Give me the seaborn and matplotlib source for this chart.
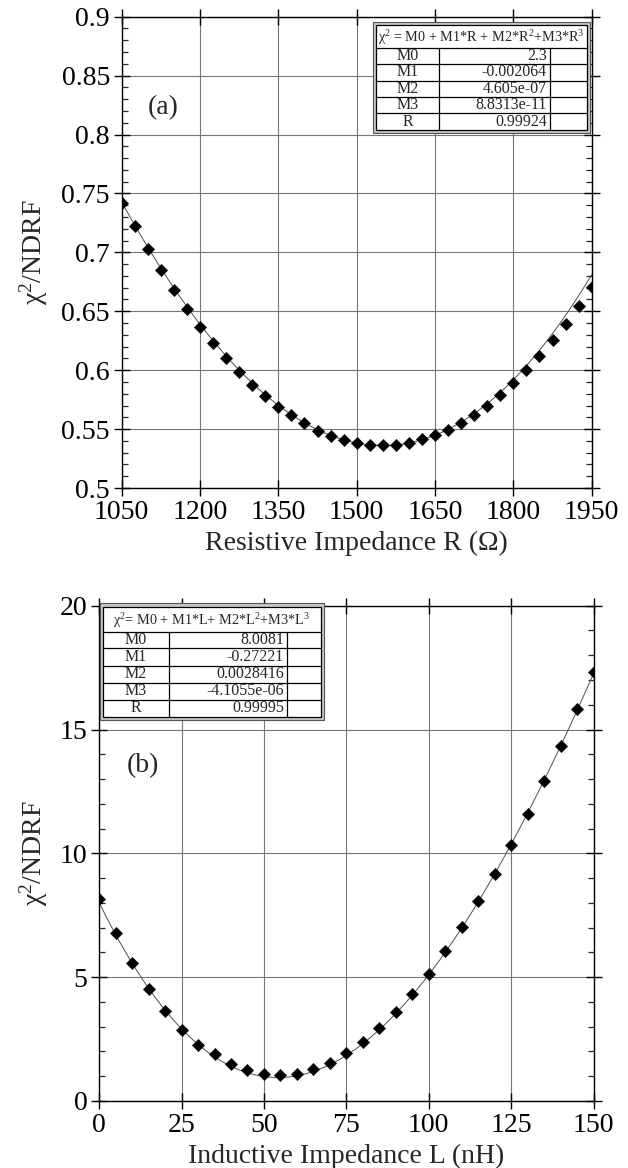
import numpy as np
import matplotlib
matplotlib.use("Agg")
import matplotlib.pyplot as plt
from matplotlib.patches import Rectangle
from matplotlib.lines import Line2D
from matplotlib.ticker import MultipleLocator
import seaborn as sns

# ---- data -------------------------------------------------------------
# (a) chi^2/NDRF versus resistive impedance R (ohm)
r_ohm = [1050, 1075, 1100, 1125, 1150, 1175, 1200, 1225, 1250, 1275, 1300,
         1325, 1350, 1375, 1400, 1425, 1450, 1475, 1500, 1525, 1550, 1575,
         1600, 1625, 1650, 1675, 1700, 1725, 1750, 1775, 1800, 1825, 1850,
         1875, 1900, 1925, 1950]
chi_r = [0.742, 0.722, 0.703, 0.685, 0.668, 0.652, 0.637, 0.623, 0.610,
         0.5985, 0.5877, 0.578, 0.569, 0.5616, 0.5548, 0.5488, 0.5443,
         0.5409, 0.5383, 0.5369, 0.5363, 0.5369, 0.5386, 0.5414, 0.5451,
         0.5494, 0.555, 0.5622, 0.5698, 0.5786, 0.5888, 0.5999, 0.6121,
         0.6252, 0.6394, 0.6542, 0.6706]

# (b) chi^2/NDRF versus inductive impedance L (nH)
l_nh = [0, 5, 10, 15, 20, 25, 30, 35, 40, 45, 50, 55, 60, 65, 70, 75, 80,
        85, 90, 95, 100, 105, 110, 115, 120, 125, 130, 135, 140, 145, 150]
chi_l = [8.17, 6.79, 5.58, 4.53, 3.63, 2.88, 2.26, 1.88, 1.51, 1.24, 1.08,
         1.04, 1.10, 1.28, 1.55, 1.92, 2.40, 2.96, 3.60, 4.32, 5.11, 6.05,
         7.02, 8.06, 9.17, 10.35, 11.60, 12.94, 14.34, 15.81, 17.32]

# cubic fit coefficients as printed in the inset tables
coef_names = ["M0", "M1", "M2", "M3", "R"]
coef_r = ["2.3", "-0.002064", "4.605e-07", "8.8313e-11", "0.99924"]
coef_l = ["8.0081", "-0.27221", "0.0028416", "-4.1055e-06", "0.99995"]

r_ticks = [1050, 1200, 1350, 1500, 1650, 1800, 1950]
r_tick_labels = ["1050", "1200", "1350", "1500", "1650", "1800", "1950"]
chi_r_ticks = [0.5, 0.55, 0.6, 0.65, 0.7, 0.75, 0.8, 0.85, 0.9]
chi_r_tick_labels = ["0.5", "0.55", "0.6", "0.65", "0.7", "0.75", "0.8", "0.85", "0.9"]
l_ticks = [0, 25, 50, 75, 100, 125, 150]
l_tick_labels = ["0", "25", "50", "75", "100", "125", "150"]
chi_l_ticks = [0, 5, 10, 15, 20]
chi_l_tick_labels = ["0", "5", "10", "15", "20"]

# ---- style ------------------------------------------------------------
sns.set_style("white")
plt.rcParams["font.family"] = ["Liberation Serif", "DejaVu Serif"]
plt.rcParams["mathtext.fontset"] = "custom"
plt.rcParams["mathtext.rm"] = "Liberation Serif"
plt.rcParams["mathtext.it"] = "Liberation Serif:italic"
plt.rcParams["axes.edgecolor"] = "black"
plt.rcParams["axes.linewidth"] = 1.0

W, H = 628, 1168
fig = plt.figure(figsize=(W / 100, H / 100), dpi=100)


def fx(px):
    return px / W


def fy(py):
    return 1 - py / H


ax_a = fig.add_axes([fx(121.7), fy(488), fx(591.7) - fx(121.7), fy(16.7) - fy(488)])
ax_b = fig.add_axes([fx(99.2), fy(1101), fx(593.5) - fx(99.2), fy(605.7) - fy(1101)])


def cubic(c, x):
    m0, m1, m2, m3 = (float(v) for v in c[:4])
    return m0 + m1 * x + m2 * x ** 2 + m3 * x ** 3


def draw_panel(ax, x, y, coefs, xlim, ylim, xt, xtl, yt, ytl, yminor):
    ax.grid(True, color="#767676", linewidth=0.8, zorder=0)
    ax.set_axisbelow(True)
    xs = np.linspace(xlim[0], xlim[1], 400)
    sns.lineplot(x=xs, y=cubic(coefs, xs), ax=ax, color="#505050",
                 linewidth=0.7, zorder=2)
    sns.scatterplot(x=x, y=y, ax=ax, marker="D", s=40, color="black",
                    edgecolor="black", linewidth=0.3, zorder=3)
    ax.set_xlim(*xlim)
    ax.set_ylim(*ylim)
    ax.set_xticks(xt)
    ax.set_xticklabels(xtl)
    ax.set_yticks(yt)
    ax.set_yticklabels(ytl)
    ax.yaxis.set_minor_locator(MultipleLocator(yminor))
    ax.tick_params(which="major", direction="inout", length=11, width=1.0,
                   top=True, right=True, bottom=True, left=True,
                   labelsize=20, pad=3, colors="black")
    ax.tick_params(axis="y", which="minor", direction="in", length=4,
                   width=0.9, left=True, right=True)
    ax.tick_params(axis="x", which="minor", bottom=False, top=False)
    for s in ax.spines.values():
        s.set_visible(True)
        s.set_color("black")


draw_panel(ax_a, r_ohm, chi_r, coef_r, (1050, 1950), (0.5, 0.9),
           r_ticks, r_tick_labels, chi_r_ticks, chi_r_tick_labels, 0.01)
draw_panel(ax_b, l_nh, chi_l, coef_l, (0, 150), (0, 20),
           l_ticks, l_tick_labels, chi_l_ticks, chi_l_tick_labels, 1)

ylab = "χ$^{2}$/NDRF"
ax_a.set_ylabel(ylab, fontsize=20)
ax_b.set_ylabel(ylab, fontsize=20)
ax_a.yaxis.set_label_coords((50 - 121.7) / 470, 0.5)
ax_b.yaxis.set_label_coords((50 - 99.2) / 494.3, 0.5)
ax_a.set_xlabel("Resistive Impedance R (Ω)", fontsize=20, labelpad=4)
ax_b.set_xlabel("Inductive Impedance L (nH)", fontsize=20, labelpad=4)

ax_a.text(0.088, 0.808, "(a)", transform=ax_a.transAxes, fontsize=20,
          ha="center", va="center")
ax_b.text(0.0886, 0.678, "(b)", transform=ax_b.transAxes, fontsize=20,
          ha="center", va="center")


# ---- inset coefficient tables (drawn in figure pixel geometry) ----------
def draw_table(outer, inner, header_bottom, row_lines, col1, col2,
               header, names, values, value_right, fs=11.5, hfs=10.3):
    x0, y0, x1, y1 = outer
    fig.patches.append(Rectangle((fx(x0), fy(y1)), fx(x1) - fx(x0), fy(y0) - fy(y1),
                                 transform=fig.transFigure, facecolor="#c8c8c8",
                                 edgecolor="#555555", linewidth=0.8, zorder=5))
    ix0, iy0, ix1, iy1 = inner
    fig.patches.append(Rectangle((fx(ix0), fy(iy1)), fx(ix1) - fx(ix0), fy(iy0) - fy(iy1),
                                 transform=fig.transFigure, facecolor="white",
                                 edgecolor="black", linewidth=0.9, zorder=6))
    hlines = [header_bottom] + row_lines
    for yy in hlines:
        fig.add_artist(Line2D([fx(ix0), fx(ix1)], [fy(yy), fy(yy)],
                              transform=fig.transFigure, color="black",
                              linewidth=0.9, zorder=7))
    for xx in (col1, col2):
        fig.add_artist(Line2D([fx(xx), fx(xx)], [fy(header_bottom), fy(iy1)],
                              transform=fig.transFigure, color="black",
                              linewidth=0.9, zorder=7))
    fig.text(fx((ix0 + ix1) / 2), fy((iy0 + header_bottom) / 2 + 1), header,
             ha="center", va="center", fontsize=hfs, zorder=8)
    bounds = hlines + [iy1]
    for i, (nm, val) in enumerate(zip(names, values)):
        yc = (bounds[i] + bounds[i + 1]) / 2
        fig.text(fx((ix0 + col1) / 2), fy(yc), nm, ha="center", va="center",
                 fontsize=fs, zorder=8)
        fig.text(fx(value_right), fy(yc), val, ha="right", va="center",
                 fontsize=fs, zorder=8)


draw_table(outer=(373, 21.7, 590, 133.3), inner=(376, 24.7, 587, 130.3),
           header_bottom=48.3, row_lines=[64, 81, 97.3, 113.3],
           col1=439, col2=550,
           header="χ$^{2}$ = M0 + M1*R + M2*R$^{2}$+M3*R$^{3}$",
           names=coef_names, values=coef_r, value_right=547)

draw_table(outer=(100, 603.5, 324, 719.5), inner=(103, 606.5, 321, 716.5),
           header_bottom=632, row_lines=[648.3, 665.7, 682.7, 700],
           col1=169, col2=286.7,
           header="χ$^{2}$= M0 + M1*L+ M2*L$^{2}$+M3*L$^{3}$",
           names=coef_names, values=coef_l, value_right=284)

fig.savefig("out.png", dpi=100)
